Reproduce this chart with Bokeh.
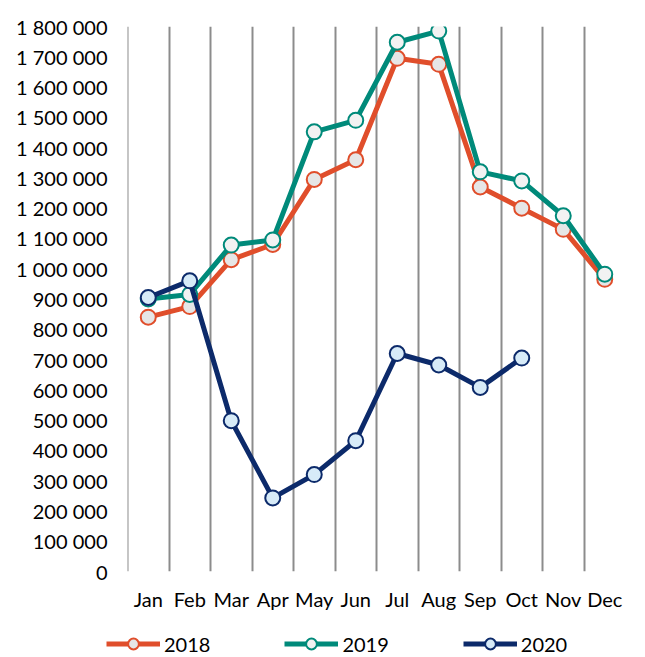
from bokeh.plotting import figure
from bokeh.models import (FactorRange, Range1d, FixedTicker, Legend, LegendItem)
from bokeh.embed import file_html
from bokeh.resources import INLINE

months = ["Jan", "Feb", "Mar", "Apr", "May", "Jun", "Jul", "Aug", "Sep", "Oct", "Nov", "Dec"]
y2018 = [840000, 875000, 1030000, 1080000, 1295000, 1360000, 1695000, 1675000, 1270000, 1200000, 1130000, 965000]
y2019 = [900000, 915000, 1078000, 1095000, 1452000, 1490000, 1748000, 1785000, 1320000, 1290000, 1175000, 982000]
y2020 = [905000, 960000, 498000, 243000, 320000, 432000, 720000, 682000, 608000, 705000]
y_ticks = list(range(0, 1800001, 100000))
y_tick_labels = {t: f"{t:,}".replace(",", " ") for t in y_ticks}

FONT = "Lato"
W = 637

p = figure(x_range=FactorRange(*months, range_padding=0), y_range=Range1d(0, 1800000),
           width=W, height=615, output_backend="svg", toolbar_location=None,
           min_border_left=127, min_border_right=12, min_border_top=26, min_border_bottom=44)
p.outline_line_color = None
p.background_fill_color = "white"

# grids: vertical lines on category boundaries
p.ygrid.grid_line_color = None
p.xgrid.ticker = FixedTicker(ticks=[i + 0.002 for i in range(len(months))])
p.xgrid.grid_line_color = "#8C8C8C"
p.xgrid.grid_line_width = 2

# axes
for ax in (p.xaxis, p.yaxis):
    ax.axis_line_color = None
    ax.major_tick_line_color = None
    ax.minor_tick_line_color = None
    ax.major_tick_out = 0
    ax.major_tick_in = 0
    ax.major_label_text_font = FONT
    ax.major_label_text_font_size = "20px"
    ax.major_label_text_color = "#000000"
p.yaxis.ticker = FixedTicker(ticks=y_ticks)
p.yaxis.major_label_overrides = y_tick_labels
p.yaxis.major_label_standoff = 20
p.xaxis.major_label_standoff = 15

series = [
    ("2018", y2018, "#E04E2B", "#E6E6E6"),
    ("2019", y2019, "#008A7A", "#F2F2F2"),
    ("2020", y2020, "#0C2A6A", "#D7EBF8"),
]

# legend strip as its own small figure below the chart (its y range hides the copies)
lg = figure(x_range=Range1d(0, 1), y_range=Range1d(-2, -1), width=W, height=42,
            output_backend="svg", toolbar_location=None, x_axis_type=None, y_axis_type=None,
            min_border_left=0, min_border_right=0, min_border_top=0, min_border_bottom=0)
lg.outline_line_color = None
lg.xgrid.grid_line_color = None
lg.ygrid.grid_line_color = None

items = []
for label, vals, col, fill in series:
    xs = months[:len(vals)]
    p.line(xs, vals, line_color=col, line_width=5, line_join="round")
    p.scatter(xs, vals, size=15, fill_color=fill, line_color=col, line_width=2)
    idx = list(range(len(vals)))
    l2 = lg.line(idx, vals, line_color=col, line_width=5)
    s2 = lg.scatter(idx, vals, fill_color=fill, line_color=col, line_width=2)
    items.append(LegendItem(label=label, renderers=[l2, s2]))

legend = Legend(items=items, orientation="horizontal", location=(106, 0))
legend.border_line_color = None
legend.background_fill_alpha = 0
legend.glyph_width = 54
legend.glyph_height = 27
legend.label_standoff = 4
legend.spacing = 74
legend.padding = 0
legend.margin = 0
legend.label_text_font = FONT
legend.label_text_font_size = "20px"
legend.label_text_color = "#000000"
lg.add_layout(legend, "center")

open("out.html", "w").write(file_html([p, lg], INLINE))
